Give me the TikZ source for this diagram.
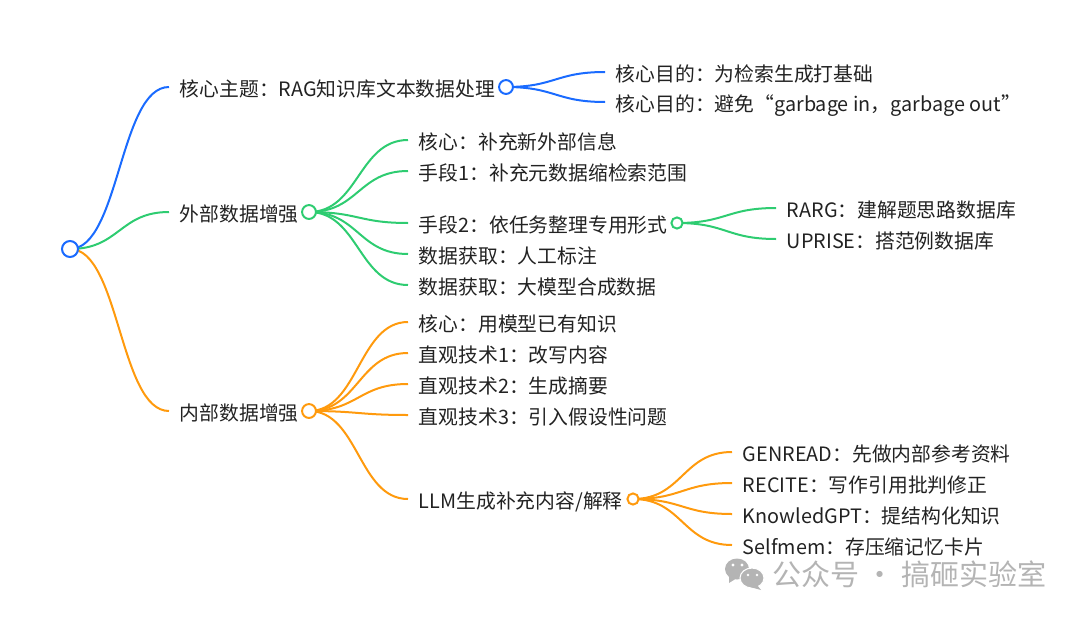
\documentclass[tikz,border=0pt]{standalone}
\usepackage{fontspec}
\setmainfont{Noto Sans CJK SC}
\usetikzlibrary{backgrounds,calc}
\definecolor{ink}{HTML}{222222}
\definecolor{bluebranch}{HTML}{1A6BFF}
\definecolor{greenbranch}{HTML}{2ECC71}
\definecolor{orangebranch}{HTML}{FF9A0D}
\definecolor{markgray}{HTML}{B4B4B4}

\begin{document}
\begin{tikzpicture}[
  x=0.75pt, y=-0.75pt,
  lbl/.style={font=\fontsize{14.85pt}{17pt}\selectfont, text=ink, anchor=west, inner xsep=8pt, inner ysep=0pt, text height=15.25pt, text depth=0.75pt},
  dot/.style={circle, draw=#1, fill=white, line width=1.5pt, inner sep=0pt},
  root/.style={dot=#1, minimum size=12pt},
  main/.style={dot=#1, minimum size=10.4pt},
  subdot/.style={dot=#1, minimum size=8.4pt},
  branch/.style={draw=#1, line width=1.5pt, to path={let \p1=(\tikztostart), \p2=(\tikztotarget) in .. controls ({0.5*\x1+0.5*\x2},\y1) and ({0.5*\x1+0.5*\x2},\y2) .. (\tikztotarget)}},
  stamp/.style={font=\fontsize{21.8pt}{24pt}\selectfont, text=markgray, anchor=west, inner sep=0pt}
]
\useasboundingbox (0,0) rectangle (1080,617);

% ---------- root and first level ----------
\node[root=bluebranch] (hub) at (70,249) {};
\node[lbl] (topic) at (169,87) {核心主题：RAG知识库文本数据处理};
\node[main=bluebranch] (topicdot) at (506,87) {};
\node[lbl] (outer) at (169,212) {外部数据增强};
\node[main=greenbranch] (outerdot) at (309,212) {};
\node[lbl] (inner) at (169,411) {内部数据增强};
\node[main=orangebranch] (innerdot) at (309,411) {};

% ---------- topic ----------
\node[lbl] (goala) at (605,72) {核心目的：为检索生成打基础};
\node[lbl] (goalb) at (605,102) {核心目的：避免“garbage in，garbage out”};

% ---------- external data ----------
\node[lbl] (outa) at (408,140) {核心：补充新外部信息};
\node[lbl] (outb) at (408,171) {手段1：补充元数据缩检索范围};
\node[lbl] (outc) at (408,223) {手段2：依任务整理专用形式};
\node[subdot=greenbranch] (outcdot) at (677,223) {};
\node[lbl] (outd) at (408,254) {数据获取：人工标注};
\node[lbl] (oute) at (408,285) {数据获取：大模型合成数据};
\node[lbl] (rarg) at (776,208) {RARG：建解题思路数据库};
\node[lbl] (uprise) at (776,239) {UPRISE：搭范例数据库};

% ---------- internal data ----------
\node[lbl] (ina) at (408,322) {核心：用模型已有知识};
\node[lbl] (inb) at (408,353) {直观技术1：改写内容};
\node[lbl] (inc) at (408,384) {直观技术2：生成摘要};
\node[lbl] (ind) at (408,415) {直观技术3：引入假设性问题};
\node[lbl] (ine) at (408,499) {LLM生成补充内容/解释};
\node[subdot=orangebranch] (inedot) at (633,499) {};
\node[lbl] (genread) at (732,452) {GENREAD：先做内部参考资料};
\node[lbl] (recite) at (732,483) {RECITE：写作引用批判修正};
\node[lbl] (knowled) at (732,514) {KnowledGPT：提结构化知识};
\node[lbl] (selfmem) at (732,545) {Selfmem：存压缩记忆卡片};

% ---------- branches ----------
\begin{scope}[on background layer]
  \foreach \a/\b in {hub/topic, topicdot/goala, topicdot/goalb}
    \draw[branch=bluebranch] (\a.center) to (\b.west);
  \foreach \a/\b in {hub/outer, outerdot/outa, outerdot/outb, outerdot/outc, outerdot/outd, outerdot/oute, outcdot/rarg, outcdot/uprise}
    \draw[branch=greenbranch] (\a.center) to (\b.west);
  \foreach \a/\b in {hub/inner, innerdot/ina, innerdot/inb, innerdot/inc, innerdot/ind, innerdot/ine, inedot/genread, inedot/recite, inedot/knowled, inedot/selfmem}
    \draw[branch=orangebranch] (\a.center) to (\b.west);
\end{scope}

% ---------- watermark ----------
\node[stamp] (marktext) at (772,574) {公众号 · 搞砸实验室};
\fill[markgray] (737,569) ellipse [x radius=12, y radius=10.5];
\fill[markgray] (729,575) -- (729,583) -- (737,578) -- cycle;
\draw[white, line width=0.8pt, fill=markgray] (752,578) ellipse [x radius=12, y radius=10];
\fill[markgray] (757,585) -- (761,590) -- (750,587) -- cycle;
\foreach \x/\y in {733/565, 742/565} \fill[white] (\x,\y) circle (1.6);
\foreach \x/\y in {748/575, 757/575} \fill[white] (\x,\y) circle (1.4);
\end{tikzpicture}
\end{document}
